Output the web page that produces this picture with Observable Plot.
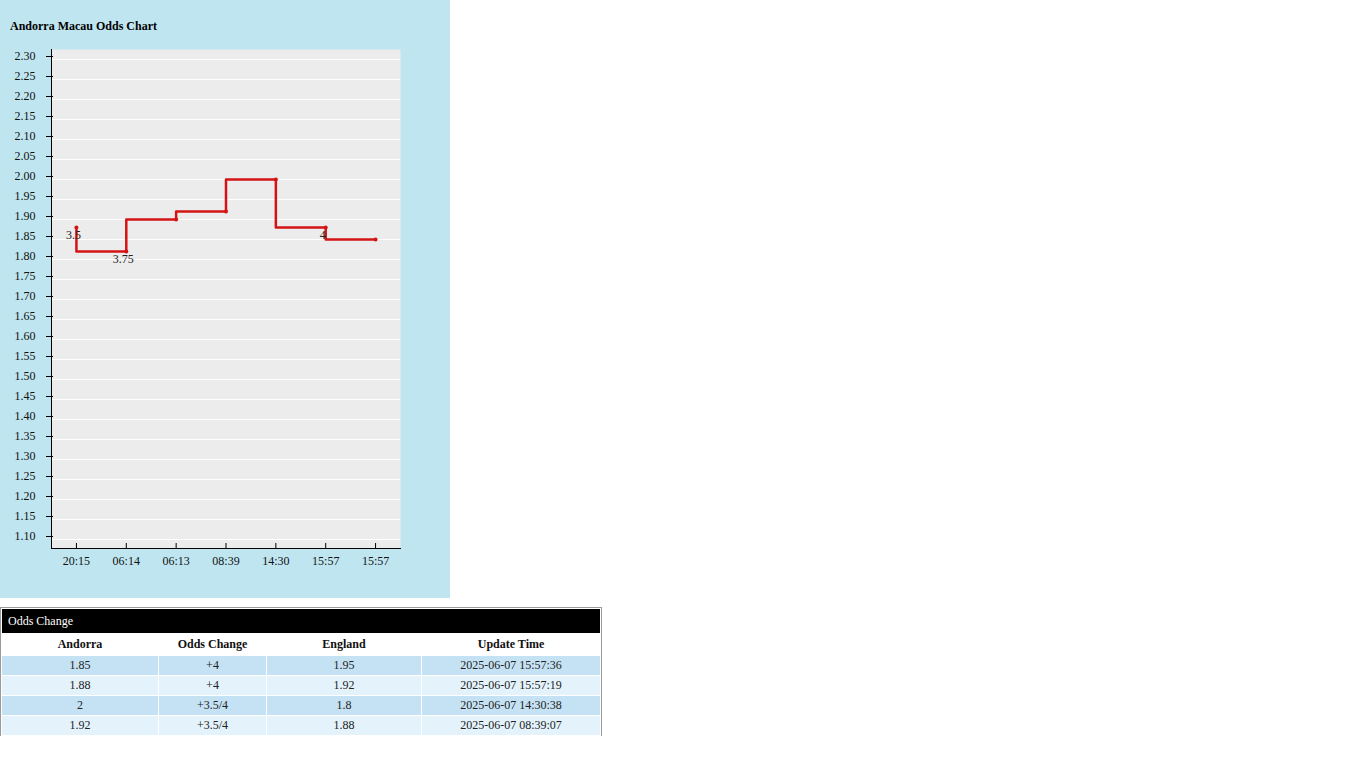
<!DOCTYPE html>
<html>
<head>
<meta charset="utf-8">
<script src="https://cdn.jsdelivr.net/npm/d3@7"></script>
<script src="https://cdn.jsdelivr.net/npm/@observablehq/plot@0.6"></script>
<style>
  html, body { margin: 0; padding: 0; background: #fff; font-family: "Liberation Serif", "Times New Roman", serif; }
  #panel { position: absolute; left: 0; top: 0; width: 450px; height: 598px; background: #bfe6f0; }
  #title { position: absolute; left: 10px; top: 19px; font-size: 12px; font-weight: bold; color: #000; }
  #chart { position: absolute; left: 0; top: 40px; }
  #tablewrap { position: absolute; left: 0; top: 607px; width: 602px; height: 129px; overflow: hidden; }
  table { table-layout: fixed; width: 602px; border: 1px solid #999; border-spacing: 1px; border-collapse: separate; background: #fff; font-size: 12px; color: #222; }
  td, th { padding: 0; text-align: center; }
  th.cap { background: #000; color: #fff; font-weight: normal; text-align: left; padding-left: 6px; height: 24px; }
  tr.head th { height: 21px; font-weight: bold; color: #111; }
  tr.r td { height: 19px; }
  tr.odd td { background: #c5e2f4; }
  tr.even td { background: #e4f3fb; }
</style>
</head>
<body>
<div id="panel">
  <div id="title">Andorra Macau Odds Chart</div>
  <div id="chart"></div>
</div>
<div id="tablewrap"><table id="tbl"></table></div>
<script>
// ---- chart data ----
const timeLabels = ["20:15", "06:14", "06:13", "08:39", "14:30", "15:57", "15:57"];
const homeOdds = [1.88, 1.82, 1.90, 1.92, 2.00, 1.88, 1.85];
const handicapLabels = ["3.5", "3.75", "", "", "", "4", ""];
const yTicks = [1.10, 1.15, 1.20, 1.25, 1.30, 1.35, 1.40, 1.45, 1.50, 1.55, 1.60, 1.65, 1.70, 1.75, 1.80, 1.85, 1.90, 1.95, 2.00, 2.05, 2.10, 2.15, 2.20, 2.25, 2.30];
const yDomain = [1.0775, 2.325];

// ---- table data ----
const tableHeaders = ["Andorra", "Odds Change", "England", "Update Time"];
const andorraOdds = ["1.85", "1.88", "2", "1.92"];
const oddsChange = ["+4", "+4", "+3.5/4", "+3.5/4"];
const englandOdds = ["1.95", "1.92", "1.8", "1.88"];
const updateTimes = ["2025-06-07 15:57:36", "2025-06-07 15:57:19", "2025-06-07 14:30:38", "2025-06-07 08:39:07"];

const points = homeOdds.map((v, i) => ({i, v, label: handicapLabels[i]}));
const lineColor = "#d41414";

const chart = Plot.plot({
  width: 450,
  height: 558,
  marginLeft: 51,
  marginRight: 50,
  marginTop: 9,
  marginBottom: 50,
  style: {fontFamily: "'Liberation Serif', 'Times New Roman', serif", fontSize: "12px", background: "transparent", color: "#111"},
  x: {type: "point", domain: timeLabels.map((d, i) => i), padding: 0.5, round: false},
  y: {domain: yDomain},
  marks: [
    Plot.frame({fill: "#ececec", stroke: null}),
    Plot.gridY(yTicks, {stroke: "#fff", strokeOpacity: 1, strokeWidth: 1}),
    Plot.frame({anchor: "left", stroke: "#000"}),
    Plot.frame({anchor: "bottom", stroke: "#000"}),
    Plot.axisY(yTicks, {tickSize: 7, dx: 2, tickPadding: 11, dy: -3, tickFormat: d => d.toFixed(2), label: null, stroke: "#000"}),
    Plot.axisX({tickSize: -5, tickPadding: 13, tickFormat: i => timeLabels[i], label: null, stroke: "#000"}),
    Plot.line(points, {x: "i", y: "v", curve: "step-before", stroke: lineColor, strokeWidth: 2.5}),
    Plot.dot(points, {x: "i", y: "v", r: 2, fill: lineColor, stroke: null}),
    Plot.text(points.filter(d => d.label), {x: "i", y: "v", text: "label", dx: -3, dy: 8, fill: "#222", fontSize: 12})
  ]
});
document.getElementById("chart").appendChild(chart);

// ---- table ----
const tbl = document.getElementById("tbl");
const cg = document.createElement("colgroup");
[156, 107, 154, 178].forEach(w => { const c = document.createElement("col"); c.style.width = w + "px"; cg.appendChild(c); });
tbl.appendChild(cg);
const capRow = tbl.insertRow();
const cap = document.createElement("th");
cap.colSpan = 4; cap.className = "cap"; cap.textContent = "Odds Change";
capRow.appendChild(cap);
const headRow = tbl.insertRow();
headRow.className = "head";
tableHeaders.forEach(h => { const th = document.createElement("th"); th.textContent = h; headRow.appendChild(th); });
andorraOdds.forEach((a, k) => {
  const r = tbl.insertRow();
  r.className = "r " + (k % 2 === 0 ? "odd" : "even");
  [a, oddsChange[k], englandOdds[k], updateTimes[k]].forEach(v => { const td = r.insertCell(); td.textContent = v; });
});
</script>
</body>
</html>
